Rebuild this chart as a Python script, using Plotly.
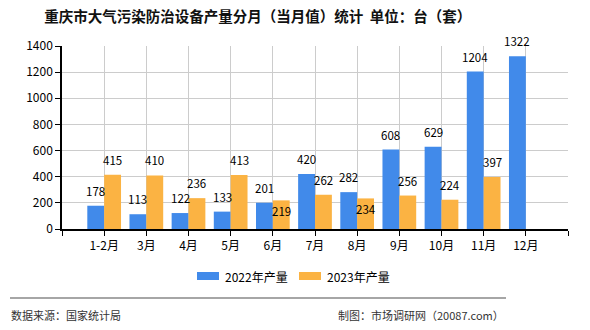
import plotly.graph_objects as go

# Monthly output of air-pollution control equipment, Chongqing (units / sets)
months = ["1-2月", "3月", "4月", "5月", "6月", "7月", "8月", "9月", "10月", "11月", "12月"]
output_2022 = [178, 113, 122, 133, 201, 420, 282, 608, 629, 1204, 1322]
output_2023 = [415, 410, 236, 413, 219, 262, 234, 256, 224, 397, None]
series_names = ["2022年产量", "2023年产量"]
colors = ["#418AEA", "#FBB343"]
y_ticks = [0, 200, 400, 600, 800, 1000, 1200, 1400]

FONT = "Noto Sans CJK SC, DejaVu Sans, sans-serif"
xpos = list(range(len(months)))

fig = go.Figure()
for name, vals, col in zip(series_names, [output_2022, output_2023], colors):
    fig.add_trace(go.Bar(x=xpos, y=vals, name=name, marker_color=col,
                         marker_line_width=0, showlegend=False))

# value labels above each bar; a 2023 label that would collide with the
# neighbouring 2022 label is tucked just inside the top of its bar instead
for i in xpos:
    a, b = output_2022[i], output_2023[i]
    fig.add_annotation(x=i - 0.2, y=a, text=str(a), showarrow=False,
                       yanchor="bottom", yshift=5,
                       font=dict(family=FONT, size=11.5, color="#000"))
    if b is None:
        continue
    clash = abs(b - a) < 100
    fig.add_annotation(x=i + 0.2, y=b, text=str(b), showarrow=False,
                       yanchor="top" if clash else "bottom",
                       yshift=-1 if clash else 5,
                       font=dict(family=FONT, size=11.5, color="#000"))

tickvals = list(range(-1, len(months) + 1))
ticktext = [""] + months + [""]

fig.update_layout(
    width=590, height=330,
    margin=dict(l=62, r=22, t=46, b=101),
    paper_bgcolor="white", plot_bgcolor="white",
    barmode="group", bargap=0.2, bargroupgap=0,
    font=dict(family=FONT, size=12, color="#000"),
    title=dict(text="重庆市大气污染防治设备产量分月（当月值）统计  单位：台（套）",
               x=0.437, xanchor="center", y=0.948, yanchor="middle",
               font=dict(family=FONT, size=14.5, color="#111", weight="bold")),
    xaxis=dict(range=[-1, len(months)], tickmode="array", tickvals=tickvals,
               ticktext=ticktext, showgrid=True, gridcolor="#cccccc", gridwidth=1,
               showline=True, linecolor="#000", linewidth=1.5,
               ticks="outside", ticklen=5, tickcolor="#000",
               tickfont=dict(family=FONT, size=12, color="#000"), zeroline=False),
    yaxis=dict(range=[0, 1400], tickmode="array", tickvals=y_ticks,
               showgrid=True, gridcolor="#cccccc", gridwidth=1,
               showline=True, linecolor="#000", linewidth=1.5,
               ticks="outside", ticklen=5, tickcolor="#000",
               tickfont=dict(family=FONT, size=12, color="#000"), zeroline=False),
)

# legend drawn as swatches + labels below the plot
legend_items = [(197, series_names[0], colors[0]), (299, series_names[1], colors[1])]
for x0, label, col in legend_items:
    fig.add_shape(type="rect", xref="paper", yref="paper",
                  x0=(x0 - 62) / 506, x1=(x0 + 22 - 62) / 506,
                  y0=(229 - 280) / 183, y1=(229 - 272) / 183,
                  fillcolor=col, line_width=0)
    fig.add_annotation(xref="paper", yref="paper", x=(x0 + 26 - 62) / 506,
                       y=(229 - 276) / 183, text=label, showarrow=False,
                       xanchor="left", yanchor="middle",
                       font=dict(family=FONT, size=12, color="#000"))

# footer separator and source notes
fig.add_shape(type="line", xref="paper", yref="paper",
              x0=(10 - 62) / 506, x1=(506 - 62) / 506,
              y0=(229 - 298) / 183, y1=(229 - 298) / 183,
              line=dict(color="#888888", width=1.5))
fig.add_annotation(xref="paper", yref="paper", x=(9 - 62) / 506, y=(229 - 315) / 183,
                   text="数据来源：国家统计局", showarrow=False, xanchor="left",
                   yanchor="middle", font=dict(family=FONT, size=11, color="#333"))
fig.add_annotation(xref="paper", yref="paper", x=(506 - 62) / 506, y=(229 - 315) / 183,
                   text="制图：市场调研网（20087.com）", showarrow=False, xanchor="right",
                   yanchor="middle", font=dict(family=FONT, size=11, color="#333"))

fig.write_html("out.html")
